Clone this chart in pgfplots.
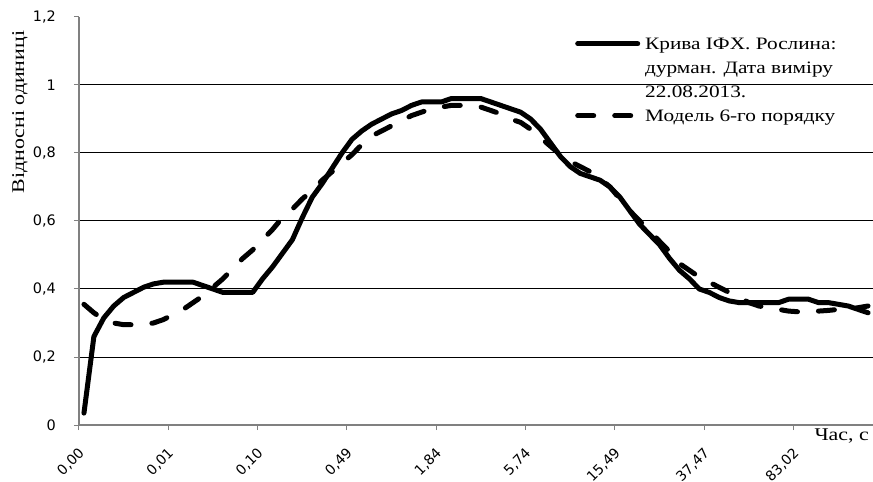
\documentclass[border=0pt]{standalone}
\usepackage{pgfplots}
\pgfplotsset{compat=1.18}
\usepackage{fontspec}
\setmainfont{Liberation Serif}
\newfontfamily\wserif[FakeStretch=1.22]{Liberation Serif}
\newfontfamily\tickfont{DejaVu Sans}

\pgfplotstableread{
x y
0 0.035
1 0.26
2 0.315
3 0.35
4 0.375
5 0.39
6 0.405
7 0.415
8 0.42
9 0.42
10 0.42
11 0.42
12 0.41
13 0.40
14 0.39
15 0.39
16 0.39
17 0.39
18 0.43
19 0.465
20 0.505
21 0.545
22 0.61
23 0.67
24 0.71
25 0.755
26 0.80
27 0.84
28 0.865
29 0.885
30 0.90
31 0.915
32 0.925
33 0.94
34 0.95
35 0.95
36 0.95
37 0.96
38 0.96
39 0.96
40 0.96
41 0.95
42 0.94
43 0.93
44 0.92
45 0.90
46 0.87
47 0.83
48 0.79
49 0.76
50 0.74
51 0.73
52 0.72
53 0.70
54 0.67
55 0.63
56 0.59
57 0.56
58 0.53
59 0.49
60 0.455
61 0.43
62 0.40
63 0.39
64 0.375
65 0.365
66 0.36
67 0.36
68 0.36
69 0.36
70 0.36
71 0.37
72 0.37
73 0.37
74 0.36
75 0.36
76 0.355
77 0.35
78 0.34
79 0.33
}\curve

\pgfplotstableread{
x y
0 0.355
1 0.33
2 0.31
3 0.30
4 0.295
5 0.295
6 0.295
7 0.30
8 0.31
9 0.325
10 0.34
11 0.36
12 0.38
13 0.405
14 0.43
15 0.46
16 0.49
17 0.515
18 0.545
19 0.575
20 0.61
21 0.635
22 0.665
23 0.69
24 0.72
25 0.745
26 0.77
27 0.795
28 0.825
29 0.85
30 0.865
31 0.88
32 0.895
33 0.91
34 0.92
35 0.93
36 0.935
37 0.94
38 0.94
39 0.94
40 0.935
41 0.925
42 0.915
43 0.90
44 0.89
45 0.87
46 0.845
47 0.82
48 0.795
49 0.775
50 0.76
51 0.745
52 0.725
53 0.70
54 0.665
55 0.63
56 0.60
57 0.57
58 0.54
59 0.51
60 0.475
61 0.455
62 0.435
63 0.42
64 0.405
65 0.39
66 0.375
67 0.36
68 0.35
69 0.345
70 0.34
71 0.335
72 0.333
73 0.333
74 0.335
75 0.337
76 0.34
77 0.34
78 0.345
79 0.35
}\model

\begin{document}
\begin{tikzpicture}
\begin{axis}[
  at={(0,0)}, anchor=south west,
  scale only axis, width=794bp, height=408bp,
  xmin=-0.5, xmax=79.5, ymin=0, ymax=1.2,
  axis x line*=bottom, axis y line*=left,
  axis line style={draw=black!50, line width=1.5bp},
  tick style={draw=black!50, line width=1bp},
  tick align=outside, major tick length=5bp,
  xtick={-0.5,8.5,17.5,26.5,35.5,44.5,53.5,62.5,71.5},
  xticklabels={{0,00},{0,01},{0,10},{0,49},{1,84},{5,74},{15,49},{37,47},{83,02}},
  ytick={0,0.2,0.4,0.6,0.8,1},
  extra y ticks={1.2},
  extra y tick style={grid=none},
  ymajorgrids,
  grid style={black, line width=1bp},
  /pgf/number format/assume math mode=true,
  /pgf/number format/use comma,
  /pgf/number format/fixed,
  /pgf/number format/precision=1,
  scaled y ticks=false,
  yticklabel style={font=\tickfont\fontsize{14.5}{15}\selectfont, inner sep=0pt, xshift=-18bp},
  xticklabel style={font=\tickfont\fontsize{14}{15}\selectfont, inner sep=0pt, xshift=3bp, yshift=-21bp, rotate=45, anchor=east},
  xlabel={Час, с},
  xlabel style={at={(axis description cs:1,0)}, anchor=north east, inner sep=0pt, xshift=-4bp, yshift=-4bp, font=\wserif\fontsize{18}{20}\selectfont},
  ylabel={Відносні одиниці},
  ylabel style={at={(axis description cs:-0.0743,0.767)}, anchor=center, font=\wserif\fontsize{18}{20}\selectfont},
  legend style={at={(axis description cs:0.6247,0.958)}, anchor=north west, draw=none, fill=none, inner sep=0pt,
    font=\wserif\fontsize{17.5}{20}\selectfont, row sep=5bp, column sep=4bp,
    nodes={inner sep=1bp, text height=14bp, text depth=3bp}},
  legend cell align=left,
  legend image code/.code={\draw[#1] (2.5bp,0bp) -- (62.5bp,0bp);},
]
\addplot[black, line width=5bp, line join=round, line cap=round] table[x=x,y=y] {\curve};
\addlegendentry{Крива ІФХ. Рослина:}
\addlegendimage{empty legend}
\addlegendentry{дурман. Дата виміру}
\addlegendimage{empty legend}
\addlegendentry{22.08.2013.}
\addplot[black, line width=5bp, line join=round, line cap=round, dash pattern=on 16bp off 21bp] table[x=x,y=y] {\model};
\addlegendentry{Модель 6-го порядку}
\end{axis}
\pgfresetboundingbox
\useasboundingbox (-79bp,-57bp) rectangle (794bp,425bp);
\end{tikzpicture}
\end{document}
